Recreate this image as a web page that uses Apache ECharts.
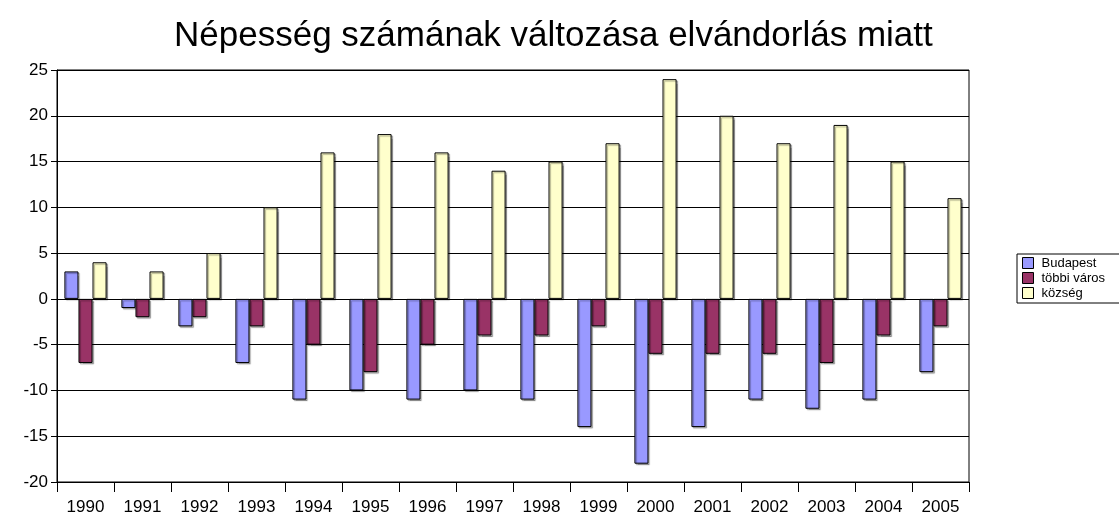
<!DOCTYPE html>
<html>
<head>
<meta charset="utf-8">
<script src="https://cdn.jsdelivr.net/npm/echarts@6/dist/echarts.min.js"></script>
<style>html,body{margin:0;padding:0;background:#fff}#c{width:1119px;height:522px}</style>
</head>
<body>
<div id="c"></div>
<script>
const years = ['1990','1991','1992','1993','1994','1995','1996','1997','1998','1999','2000','2001','2002','2003','2004','2005'];
const budapest = [3, -1, -3, -7, -11, -10, -11, -10, -11, -14, -18, -14, -11, -12, -11, -8];
const tobbiVaros = [-7, -2, -2, -3, -5, -8, -5, -4, -4, -3, -6, -6, -6, -7, -4, -3];
const kozseg = [4, 3, 5, 10, 16, 18, 16, 14, 15, 17, 24, 20, 17, 19, 15, 11];
const seriesNames = ['Budapest', 'többi város', 'község'];
const titleText = 'Népesség számának változása elvándorlás miatt';

const FONT = 'Liberation Sans, Arial, sans-serif';
const colors = ['#9999FF', '#993366', '#FFFFCC'];
const chart = echarts.init(document.getElementById('c'), null, {renderer: 'canvas'});
function bar(name, data, color) {
  return {
    name, type: 'bar', data,
    barGap: '0%', barCategoryGap: '26%',
    itemStyle: {color, borderColor: '#000', borderWidth: 1,
      shadowColor: 'rgba(0,0,0,0.3)', shadowOffsetX: 1.5, shadowOffsetY: 1.5, shadowBlur: 1},
    emphasis: {disabled: true},
    animation: false
  };
}
chart.setOption({
  animation: false,
  backgroundColor: '#fff',
  title: {
    text: titleText, left: 169, top: 14,
    textStyle: {fontFamily: FONT, fontSize: 35, fontWeight: 'normal', color: '#000'}
  },
  grid: {left: 57, right: 150, top: 70, bottom: 40, show: true, borderColor: '#000', borderWidth: 1, backgroundColor: 'transparent'},
  legend: {
    orient: 'vertical', left: 1017, top: 254,
    itemWidth: 11, itemHeight: 11, itemGap: 1,
    padding: [2, 40, 3, 5],
    borderColor: '#000', borderWidth: 1,
    textStyle: {fontFamily: FONT, fontSize: 13, lineHeight: 14, color: '#000', padding: [0,0,0,3]},
    data: seriesNames.map((n, i) => ({name: n, icon: 'rect', itemStyle: {color: colors[i], borderColor: '#000', borderWidth: 1}}))
  },
  xAxis: {
    type: 'category', data: years,
    axisLine: {onZero: false, lineStyle: {color: '#000', width: 1}},
    axisTick: {show: true, length: 10, lineStyle: {color: '#000'}},
    axisLabel: {fontFamily: FONT, fontSize: 17, color: '#000', margin: 17},
    splitLine: {show: false}
  },
  yAxis: {
    type: 'value', min: -20, max: 25, interval: 5,
    axisLine: {show: true, lineStyle: {color: '#000', width: 1}},
    axisTick: {show: true, length: 6, lineStyle: {color: '#000'}},
    axisLabel: {fontFamily: FONT, fontSize: 17, color: '#000', margin: 9},
    splitLine: {show: true, lineStyle: {color: '#000', width: 1}}
  },
  series: [
    bar(seriesNames[0], budapest, colors[0]),
    bar(seriesNames[1], tobbiVaros, colors[1]),
    bar(seriesNames[2], kozseg, colors[2])
  ]
});
</script>
</body>
</html>
